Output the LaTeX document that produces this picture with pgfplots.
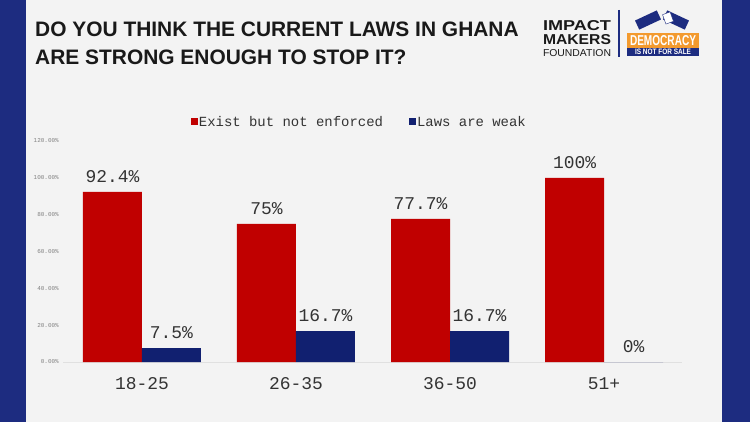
\documentclass[border=0pt]{standalone}
\usepackage{pgfplots}
\pgfplotsset{compat=1.18}
\usepackage{fontspec}
\setmainfont{Liberation Sans}
\setmonofont{Liberation Mono}
\definecolor{barred}{HTML}{C00000}
\definecolor{barblue}{HTML}{112070}
\definecolor{bordercol}{HTML}{1D2C80}
\definecolor{panel}{HTML}{F3F3F3}
\definecolor{txt}{HTML}{333333}
\definecolor{orangebox}{HTML}{F39A2E}
\begin{document}
\begin{tikzpicture}[x=1bp,y=1bp]
\useasboundingbox (0,0) rectangle (750,422);
\fill[panel] (0,0) rectangle (750,422);
\fill[bordercol] (0,0) rectangle (26,422);
\fill[bordercol] (722,0) rectangle (750,422);
% title
\node[anchor=base west, inner sep=0pt, font=\fontsize{21}{21}\selectfont\bfseries, text=black!90] at (35,385.3) {DO YOU THINK THE CURRENT LAWS IN GHANA};
\node[anchor=base west, inner sep=0pt, font=\fontsize{21}{21}\selectfont\bfseries, text=black!90] at (35,358) {ARE STRONG ENOUGH TO STOP IT?};
% logos
\node[inner sep=0pt, text=black!90] at (577,396.5) {\resizebox{68bp}{10bp}{\bfseries IMPACT}};
\node[inner sep=0pt, text=black!90] at (577,382) {\resizebox{68bp}{10bp}{\bfseries MAKERS}};
\node[inner sep=0pt, text=black!90] at (577,368.5) {\resizebox{68bp}{7bp}{FOUNDATION}};
\draw[bordercol, line width=1.5bp] (619,412) -- (619,365);
\fill[orangebox] (627,389) rectangle (699,374);
\fill[bordercol] (627,374) rectangle (699,366);
\node[inner sep=0pt, text=white] at (663,381.5) {\resizebox{66bp}{10bp}{\bfseries DEMOCRACY}};
\node[inner sep=0pt, text=white] at (663,370) {\resizebox{56bp}{5.5bp}{\bfseries IS NOT FOR SALE}};
\fill[bordercol, rotate around={25:(648,402)}] (636,397) rectangle (660,407);
\fill[bordercol, rotate around={-25:(676,402)}] (664,397) rectangle (688,407);
\fill[white, draw=bordercol, rotate around={20:(668,404)}] (664,399) rectangle (672,409);
\begin{axis}[
  at={(63bp,60bp)}, anchor=south west, scale only axis,
  width=619bp, height=221bp,
  xmin=-0.5125, xmax=3.506, ymin=0, ymax=120,
  ybar=0pt, bar width=59bp,
  /pgf/number format/assume math mode=true,
  axis x line*=bottom, axis y line*=left,
  x axis line style={-, draw=black!12, line width=0.8pt},
  y axis line style={draw=none},
  major tick length=0pt,
  xtick={0,1,2,3}, xticklabels={18-25,26-35,36-50,51+},
  xticklabel style={font=\fontsize{18}{18}\ttfamily, text=txt, inner sep=0pt, anchor=north, yshift=-15bp},
  ytick={0,20,...,120},
  yticklabel={\pgfmathprintnumber[fixed,fixed zerofill,precision=2]{\tick}\%},
  yticklabel style={font=\fontsize{6}{6}\ttfamily, text=black!50, inner sep=0pt, anchor=east, xshift=-4bp},
  nodes near coords={\pgfmathprintnumber[fixed,precision=1]{\pgfplotspointmeta}\%},
  every node near coord/.append style={font=\fontsize{18}{18}\ttfamily, text=txt, anchor=south, inner sep=0pt, yshift=9bp},
  legend style={at={(0.478,1.086)}, anchor=center, draw=none, fill=none,
    legend columns=2, font=\fontsize{14}{14}\ttfamily, text=txt,
    nodes={inner sep=1bp},
    /tikz/every even column/.append style={column sep=25bp}},
  legend image code/.code={\fill[#1, draw=none] (0bp,-3.5bp) rectangle (7bp,3.5bp);},
]
\addplot[fill=barred, draw=none] coordinates {(0,92.4) (1,75) (2,77.7) (3,100)};
\addplot[fill=barblue, draw=none] coordinates {(0,7.5) (1,16.7) (2,16.7) (3,0)};
\legend{Exist but not enforced, Laws are weak}
\end{axis}
\end{tikzpicture}
\end{document}
